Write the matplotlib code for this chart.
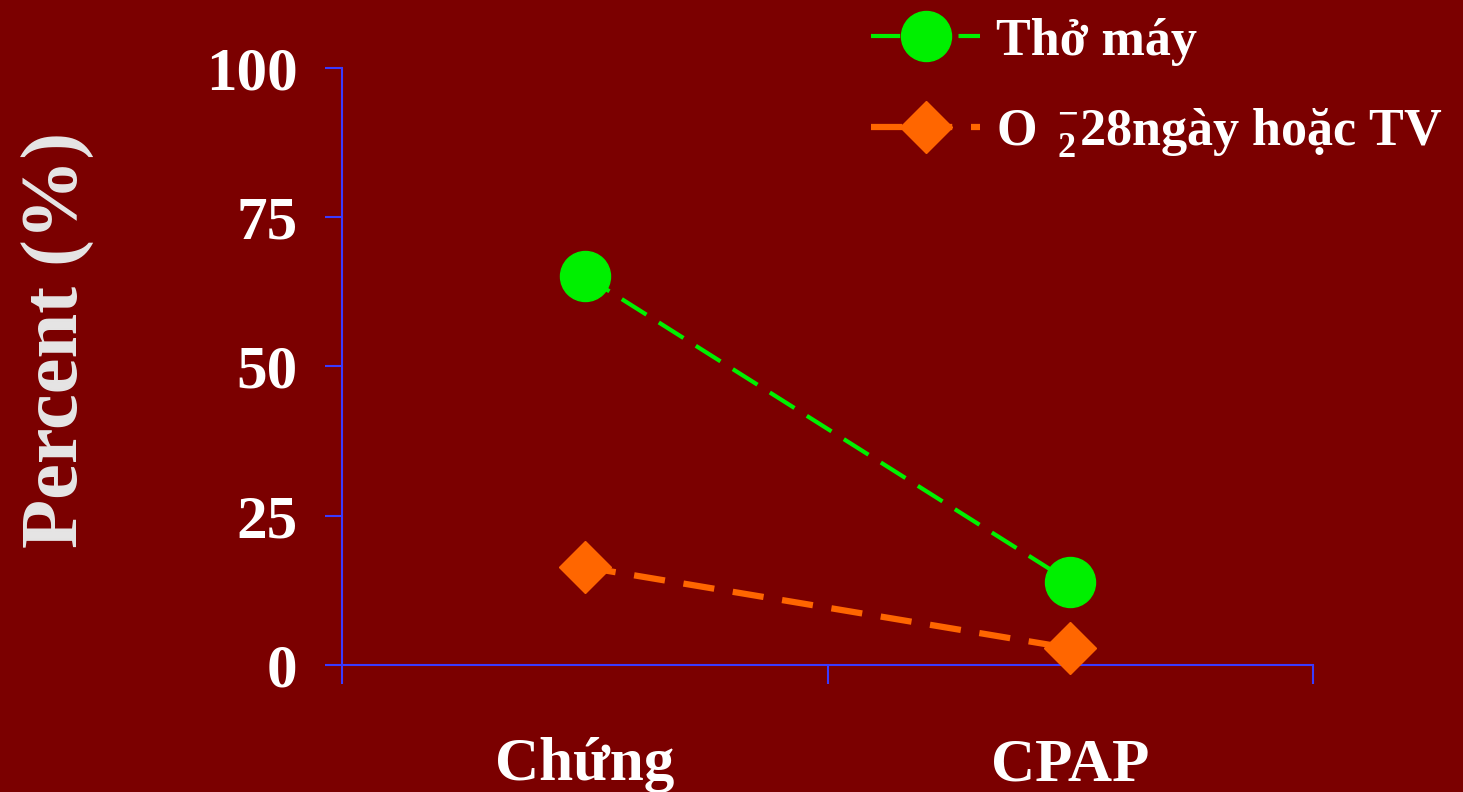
import matplotlib
matplotlib.use("Agg")
import matplotlib.pyplot as plt

plt.rcParams['font.family'] = ['Liberation Serif', 'DejaVu Serif']
plt.rcParams['font.weight'] = 'bold'
plt.rcParams['mathtext.fontset'] = 'custom'
plt.rcParams['mathtext.rm'] = 'Liberation Serif:bold'
plt.rcParams['mathtext.it'] = 'Liberation Serif:bold'
plt.rcParams['mathtext.bf'] = 'Liberation Serif:bold'

# du lieu
nhom = ["Chứng", "CPAP"]
vi_tri = [0.5, 1.5]
tho_may = [65.2, 13.9]
o2_28ngay = [16.4, 2.8]
y_ticks = [0, 25, 50, 75, 100]

nen = '#7b0000'
xanh_truc = '#3a3aff'

fig = plt.figure(figsize=(14.63, 7.92), dpi=100, facecolor=nen)
ax = fig.add_axes([0.2338, 0.1604, 0.6637, 0.7537], facecolor=nen)

ax.plot(vi_tri, tho_may, color='#00f000', lw=3, dashes=(7, 3.5),
        marker='o', ms=36, mec='#00f000', mfc='#00f000',
        label="Thở máy", clip_on=False, zorder=5)
ax.plot(vi_tri, o2_28ngay, color='#ff6600', lw=4.5, dashes=(5, 3),
        marker='D', ms=26, mec='#ff6600', mfc='#ff6600',
        label=r"O $\,^{-}_{2}$28ngày hoặc TV", clip_on=False, zorder=5)

ax.set_xlim(0, 2)
ax.set_ylim(0, 100)

for s in ['top', 'right']:
    ax.spines[s].set_visible(False)
for s in ['left', 'bottom']:
    ax.spines[s].set_color(xanh_truc)
    ax.spines[s].set_linewidth(1.5)

ax.set_xticks([0, 1, 2])
ax.set_xticklabels([])
ax.set_xticks(vi_tri, minor=True)
ax.set_xticklabels(nhom, minor=True)
ax.tick_params(axis='x', which='major', length=14, width=1.5, color=xanh_truc, direction='out')
ax.tick_params(axis='x', which='minor', length=0, pad=52, labelsize=44, labelcolor='white')

ax.set_yticks(y_ticks)
ax.tick_params(axis='y', length=12, width=1.5, color=xanh_truc, direction='out',
               pad=20, labelsize=44, labelcolor='white')

fig.text(0.04, 0.571, "Percent (%)", rotation=90, ha='center', va='center',
         fontsize=58, color='#e6e6e6', fontweight='bold')

leg = fig.legend(loc='upper left', bbox_to_anchor=(0.581, 1.004), frameon=False,
                 fontsize=37.5, handlelength=2.1, handletextpad=0.3, labelspacing=0.77,
                 borderaxespad=0)
for t in leg.get_texts():
    t.set_color('white')

fig.savefig("out.png", dpi=100, facecolor=nen)
